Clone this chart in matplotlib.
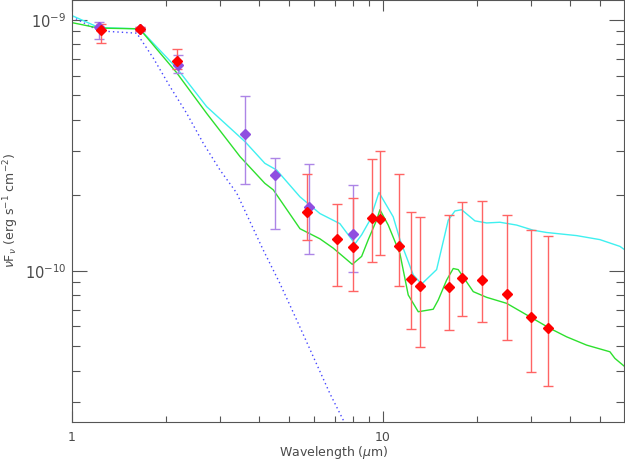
import matplotlib
matplotlib.use("Agg")
import matplotlib.pyplot as plt
import numpy as np
from matplotlib.ticker import LogLocator, FixedFormatter, FixedLocator, NullFormatter

# photometry (red): wavelength [um], nuFnu, upper and lower error limits
red_wl = [1.244, 1.65, 2.17, 5.70, 7.10, 7.99, 9.19, 9.78, 11.28, 12.3, 13.2,
          16.3, 17.95, 20.9, 25.0, 29.9, 33.9]
red_flux = [9.12e-10, 9.2e-10, 6.86e-10, 1.71e-10, 1.34e-10, 1.24e-10, 1.62e-10,
            1.61e-10, 1.25e-10, 9.25e-11, 8.7e-11, 8.59e-11, 9.33e-11, 9.16e-11,
            8.07e-11, 6.53e-11, 5.91e-11]
red_hi = [9.64e-10, 9.35e-10, 7.66e-10, 2.42e-10, 1.85e-10, 1.95e-10, 2.8e-10,
          3.01e-10, 2.42e-10, 1.72e-10, 1.63e-10, 1.67e-10, 1.88e-10, 1.9e-10,
          1.66e-10, 1.45e-10, 1.37e-10]
red_lo = [8.07e-10, 9.05e-10, 6.35e-10, 1.33e-10, 8.7e-11, 8.3e-11, 1.08e-10,
          1.15e-10, 8.7e-11, 5.83e-11, 4.96e-11, 5.8e-11, 6.58e-11, 6.24e-11,
          5.3e-11, 3.94e-11, 3.47e-11]

# photometry (purple)
pur_wl = [1.22, 1.65, 2.20, 3.60, 4.50, 5.79, 7.99]
pur_flux = [9.4e-10, 9.23e-10, 6.6e-10, 3.5e-10, 2.40e-10, 1.80e-10, 1.40e-10]
pur_hi = [9.79e-10, 9.4e-10, 7.23e-10, 4.98e-10, 2.82e-10, 2.67e-10, 2.19e-10]
pur_lo = [8.40e-10, 9.05e-10, 6.16e-10, 2.22e-10, 1.46e-10, 1.17e-10, 9.86e-11]

# model curves
cyan_wl = [1.0, 1.22, 1.65, 2.17, 2.71, 3.60, 4.17, 4.55, 5.41, 6.27, 7.27, 8.13,
           8.54, 9.08, 9.71, 10.79, 11.34, 12.52, 13.32, 14.88, 16.22, 17.04,
           17.91, 19.76, 21.55, 23.78, 26.91, 30.43, 33.60, 41.96, 49.86, 57.82, 60.0]
cyan_flux = [1.04e-9, 9.32e-10, 9.21e-10, 6.43e-10, 4.51e-10, 3.27e-10, 2.68e-10,
             2.52e-10, 1.97e-10, 1.69e-10, 1.54e-10, 1.28e-10, 1.39e-10, 1.59e-10,
             2.05e-10, 1.64e-10, 1.33e-10, 9.61e-11, 8.85e-11, 1.01e-10, 1.59e-10,
             1.73e-10, 1.75e-10, 1.58e-10, 1.55e-10, 1.56e-10, 1.52e-10, 1.45e-10,
             1.42e-10, 1.38e-10, 1.33e-10, 1.25e-10, 1.21e-10]

green_wl = [1.0, 1.22, 1.65, 2.17, 2.71, 3.47, 4.17, 4.44, 5.41, 6.27, 6.92, 7.97,
            8.54, 8.97, 9.54, 9.78, 10.40, 11.34, 12.06, 12.99, 14.51, 15.06,
            16.03, 16.83, 17.46, 19.52, 21.55, 25.0, 29.70, 34.43, 38.96, 45.19,
            53.70, 55.72, 60.0]
green_flux = [9.75e-10, 9.27e-10, 9.21e-10, 6.16e-10, 4.24e-10, 2.85e-10, 2.23e-10,
              2.10e-10, 1.47e-10, 1.34e-10, 1.23e-10, 1.06e-10, 1.14e-10, 1.33e-10,
              1.59e-10, 1.75e-10, 1.52e-10, 1.17e-10, 8.00e-11, 6.86e-11, 7.02e-11,
              7.64e-11, 9.18e-11, 1.02e-10, 1.01e-10, 8.25e-11, 7.83e-11, 7.41e-11,
              6.55e-11, 5.89e-11, 5.45e-11, 5.05e-11, 4.75e-11, 4.47e-11, 4.14e-11]

star_wl = [1.0, 1.22, 1.615, 1.826, 2.066, 2.338, 2.644, 2.992, 3.385, 4.12, 4.66,
           5.28, 5.97, 6.75, 7.45, 8.2]
star_flux = [1.03e-9, 9.04e-10, 8.85e-10, 7.04e-10, 5.42e-10, 4.24e-10, 3.22e-10,
             2.52e-10, 2.04e-10, 1.21e-10, 8.91e-11, 6.36e-11, 4.54e-11, 3.24e-11,
             2.54e-11, 1.9e-11]

text_col = "#4a4a4a"
plt.rcParams["font.family"] = ["DejaVu Sans"]
plt.rcParams["font.size"] = 8.5

fig = plt.figure(figsize=(6.25, 4.61), dpi=100)
ax = fig.add_axes([72 / 625, 39.3 / 461, 552 / 625, 421.7 / 461])

ax.plot(star_wl, star_flux, ls=(0, (1, 2.2)), color="#4646ff", lw=1.0)
ax.plot(cyan_wl, cyan_flux, color="#3ff0f0", lw=1.0)
ax.plot(green_wl, green_flux, color="#2ee02e", lw=1.0)

pf = np.array(pur_flux)
ax.errorbar(pur_wl, pf, yerr=[pf - np.array(pur_lo), np.array(pur_hi) - pf],
            fmt="D", color="#8f4fe0", mec="#8f4fe0", ms=5.5, ecolor="#ad85e6",
            elinewidth=1, capsize=3.6, capthick=1)
rf = np.array(red_flux)
ax.errorbar(red_wl, rf, yerr=[rf - np.array(red_lo), np.array(red_hi) - rf],
            fmt="D", color="#ff0000", mec="#ff0000", ms=5.5, ecolor="#ff6464",
            elinewidth=1, capsize=3.6, capthick=1)

ax.set_xscale("log")
ax.set_yscale("log")
ax.set_xlim(1.0, 59.6)
ax.set_ylim(2.5e-11, 1.2e-9)

ax.xaxis.set_major_locator(FixedLocator([1, 10]))
ax.xaxis.set_major_formatter(FixedFormatter(["1", "10"]))
ax.xaxis.set_minor_locator(LogLocator(base=10, subs=np.arange(2, 10)))
ax.xaxis.set_minor_formatter(NullFormatter())
ax.yaxis.set_minor_locator(LogLocator(base=10, subs=np.arange(2, 10)))
ax.yaxis.set_minor_formatter(NullFormatter())

ax.tick_params(which="both", direction="in", top=True, right=True,
               colors="#555555", labelcolor=text_col, width=0.8)
ax.tick_params(axis="x", which="major", length=8, pad=7, labelsize=9)
ax.tick_params(axis="x", which="minor", length=4)
ax.tick_params(axis="y", which="major", length=11, pad=4, labelsize=10.5)
ax.tick_params(axis="y", which="minor", length=6)
for sp in ax.spines.values():
    sp.set_color("#555555")
    sp.set_linewidth(0.8)

ax.set_xlabel(r"Wavelength ($\mu$m)", color=text_col, fontsize=9)
ax.xaxis.set_label_coords(0.475, -0.054)
ax.set_ylabel(r"$\nu$F$_\nu$ (erg s$^{-1}$ cm$^{-2}$)", color=text_col, fontsize=9)
ax.yaxis.set_label_coords(-0.093, 0.5)

fig.savefig("out.png", dpi=100)
